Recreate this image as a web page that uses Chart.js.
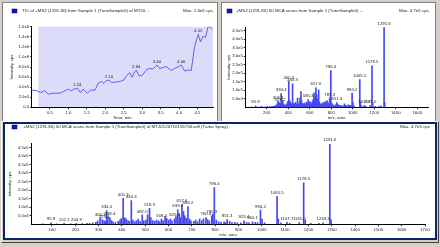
<!DOCTYPE html>
<html>
<head>
<meta charset="utf-8">
<script src="https://cdn.jsdelivr.net/npm/chart.js@4.4.1/dist/chart.umd.min.js"></script>
<style>
  body { margin: 0; width: 440px; height: 247px; background: #d4d0c8; position: relative; overflow: hidden; }
  .box { position: absolute; box-sizing: border-box; background: #fff; }
  canvas { position: absolute; }
</style>
</head>
<body>
<div class="box" style="left:2px;top:2px;width:216px;height:120px;border:1px solid #808080"></div>
<div class="box" style="left:221px;top:2px;width:215px;height:120px;border:1px solid #808080"></div>
<div class="box" style="left:1px;top:121px;width:438px;height:122px;background:#d4d0c8;border:1px solid;border-color:#fff #404040 #404040 #fff"></div>
<div class="box" style="left:3px;top:122px;width:434px;height:118px;border:2px solid #0a246a"></div>
<canvas id="tic" width="214" height="118" style="left:3px;top:3px"></canvas>
<canvas id="ms" width="212" height="118" style="left:222px;top:3px"></canvas>
<canvas id="msBig" width="430" height="114" style="left:5px;top:124px"></canvas>
<script>
// TIC trace (time in min, intensity in cps)
const ticTime = [0, 0.14, 0.25, 0.36, 0.45, 0.59, 0.77, 0.86, 1.0, 1.06,
  1.15, 1.24, 1.33, 1.40, 1.51, 1.60, 1.72, 1.81, 1.90, 1.96,
  2.03, 2.10, 2.17, 2.26, 2.39, 2.50, 2.57, 2.66, 2.73, 2.80,
  2.84, 2.92, 3.01, 3.10, 3.18, 3.29, 3.40, 3.47, 3.58, 3.65,
  3.79, 3.88, 4.01, 4.06, 4.15, 4.24, 4.33, 4.42, 4.52, 4.58,
  4.65, 4.72, 4.78, 4.83, 4.89];
const ticIntensity = [3.44e5, 3.3e5, 2.9e5, 3.3e5, 2.6e5, 2.8e5, 2.8e5, 3.1e5, 3.6e5, 3.3e5,
  3.6e5, 3.8e5, 2.9e5, 3.6e5, 2.8e5, 3.4e5, 3.4e5, 4.8e5, 5.1e5, 4.8e5,
  5.3e5, 5.4e5, 4.9e5, 5.0e5, 5.1e5, 5.4e5, 6.2e5, 6.9e5, 5.95e5, 7.1e5,
  7.4e5, 6.2e5, 6.4e5, 7.3e5, 7.7e5, 7.6e5, 8.4e5, 7.7e5, 7.9e5, 8.1e5,
  7.3e5, 7.7e5, 8.2e5, 8.4e5, 7.2e5, 7.4e5, 7.3e5, 1.2e6, 1.45e6, 1.3e6,
  1.41e6, 1.39e6, 1.59e6, 1.6e6, 1.55e6];
const ticPeakLabels = [1.24, 2.10, 2.84, 3.40, 4.06, 4.52];
const ticSelection = [0.18, 4.92];   // selected time range (min)
const ticMax = 1.6e6;
const ticXTicks = [0.5, 1.0, 1.5, 2.0, 2.5, 3.0, 3.5, 4.0, 4.5];
const ticYTicks = [0, 2e5, 4e5, 6e5, 8e5, 1e6, 1.2e6, 1.4e6, 1.6e6];

// MS2 spectrum (m/z, intensity in cps)
const peakMz = [
  60, 95.9, 120, 152.1, 180, 204.9, 230, 250, 262, 275,
  288, 296, 306.3, 316, 323.2, 328, 334.4, 340, 348.4, 355,
  362, 372, 384, 392, 398, 405.3, 412, 418, 426, 432,
  440.3, 447, 455, 462, 470, 478, 487.0, 494, 503, 510,
  518.3, 524, 532, 540, 548, 556, 562, 569.4, 577, 585.3,
  592, 600, 608, 615, 625.6, 632, 639.4, 646, 651, 657.6,
  664, 670, 676, 683.2, 690, 696, 708, 716, 724, 733,
  742, 750, 760.4, 768, 775, 785.3, 790, 796.4, 805, 815,
  825, 838, 845, 851.3, 862, 872, 884, 895, 910, 923.4,
  935, 945, 960.1, 972, 982, 994.2, 1001, 1012, 1065.5, 1071,
  1082, 1107.7, 1120, 1161.0, 1179.5, 1186, 1210, 1245, 1263.3, 1291.6,
  1297];
const peakIntensity = [
  3e3, 8e3, 3e3, 5e3, 3e3, 6e3, 4e3, 5e3, 6e3, 8e3,
  12e3, 20e3, 35e3, 28e3, 20e3, 18e3, 80e3, 45e3, 40e3, 22e3,
  15e3, 12e3, 18e3, 25e3, 35e3, 152e3, 40e3, 30e3, 22e3, 18e3,
  138e3, 25e3, 15e3, 22e3, 30e3, 18e3, 54e3, 20e3, 25e3, 55e3,
  93e3, 40e3, 22e3, 18e3, 25e3, 20e3, 15e3, 30e3, 22e3, 45e3,
  35e3, 25e3, 30e3, 20e3, 32e3, 45e3, 85e3, 60e3, 40e3, 115e3,
  75e3, 50e3, 35e3, 103e3, 30e3, 20e3, 18e3, 25e3, 15e3, 30e3,
  22e3, 32e3, 40e3, 28e3, 20e3, 50e3, 60e3, 215e3, 25e3, 15e3,
  12e3, 14e3, 10e3, 28e3, 18e3, 10e3, 12e3, 8e3, 8e3, 20e3,
  12e3, 8e3, 14e3, 12e3, 10e3, 83e3, 30e3, 8e3, 163e3, 30e3,
  8e3, 12e3, 6e3, 10e3, 243e3, 25e3, 5e3, 5e3, 9e3, 470e3,
  28e3];
const smallLabels = [95.9, 306.3, 323.2, 334.4, 405.3, 440.3, 585.3, 657.6, 785.3, 796.4,
  851.3, 994.2, 1065.5, 1107.7, 1161.0, 1179.5, 1291.6];
const bigLabels = [95.9, 152.1, 204.9, 306.3, 323.2, 334.4, 348.4, 405.3, 440.3, 487.0,
  518.3, 569.4, 625.6, 639.4, 657.6, 683.2, 760.4, 785.3, 796.4, 851.3,
  923.4, 960.1, 994.2, 1065.5, 1107.7, 1161.0, 1179.5, 1263.3, 1291.6];
const msMax = 4.7e5;
const msYTicks = [5e4, 1e5, 1.5e5, 2e5, 2.5e5, 3e5, 3.5e5, 4e5, 4.5e5];
const smallXTicks = [200, 400, 600, 800, 1000, 1200, 1400, 1600];
const bigXTicks = [100, 200, 300, 400, 500, 600, 700, 800, 900, 1000, 1100, 1200, 1300, 1400, 1500, 1600, 1700];

const FONT = '"Liberation Sans", Arial, sans-serif';
Chart.defaults.font.family = FONT;
Chart.defaults.font.size = 4.3;
Chart.defaults.color = '#222';

const expFmt = v => v.toExponential(1).replace('e+', 'e');
const setTicks = arr => s => { s.ticks = arr.map(v => ({value: v})); };

// window header: blue icon, title, "Max." text
const header = {
  id: 'header',
  afterDraw(chart, args, o) {
    const ctx = chart.ctx;
    ctx.save();
    ctx.fillStyle = '#1414c8';
    ctx.fillRect(o.iconX, o.y - 2, 5, 4);
    ctx.strokeStyle = '#000060';
    ctx.lineWidth = 0.5;
    ctx.strokeRect(o.iconX, o.y - 2, 5, 4);
    ctx.font = '4.4px ' + FONT;
    ctx.fillStyle = '#222';
    ctx.textBaseline = 'middle';
    ctx.textAlign = 'left';
    ctx.fillText(o.title, o.textX, o.y);
    ctx.textAlign = 'right';
    ctx.fillText(o.max, chart.width - o.rightPad, o.y);
    ctx.restore();
  }
};

// peak annotations above the matching data points
const peakLabels = {
  id: 'peakLabels',
  afterDatasetsDraw(chart, args, o) {
    const {ctx, scales: {x, y}} = chart;
    const pts = chart.data.datasets[0].data;
    ctx.save();
    ctx.font = '4.3px ' + FONT;
    ctx.fillStyle = '#222';
    ctx.textAlign = 'center';
    ctx.textBaseline = 'bottom';
    o.values.forEach(v => {
      const p = pts.find(d => Math.abs(d.x - v) < 1e-6);
      if (!p) return;
      ctx.fillText(v.toFixed(o.digits), x.getPixelForValue(p.x), y.getPixelForValue(p.y) - 1.5);
    });
    ctx.restore();
  }
};

const xGrid = { drawOnChartArea: false, tickLength: 2, color: '#000', lineWidth: 0.8 };
const yGrid = { drawOnChartArea: false, tickLength: 1.5, color: '#000', lineWidth: 0.8 };
const axisBorder = { color: '#000', width: 1 };

// TIC chart
new Chart(document.getElementById('tic'), {
  type: 'line',
  data: {
    datasets: [{
      data: ticTime.map((t, i) => ({x: t, y: ticIntensity[i]})),
      borderColor: '#6060ee',
      borderWidth: 1,
      pointRadius: 0,
      order: 1
    }, {
      data: ticSelection.map(t => ({x: t, y: ticMax})),
      fill: 'origin',
      backgroundColor: '#dcdcfa',
      borderColor: '#b4b4e6',
      borderWidth: 0.6,
      pointRadius: 0,
      order: 2
    }]
  },
  options: {
    responsive: false,
    animation: false,
    layout: { padding: { top: 23.7, right: 4, left: 0, bottom: 0 } },
    plugins: {
      legend: { display: false },
      tooltip: { enabled: false },
      header: { iconX: 9, textX: 19, y: 8, rightPad: 3,
        title: 'TIC of +MS2 (1291.80) from Sample 1 (TuneSample0) of MT20...', max: 'Max. 1.6e6 cps.' },
      peakLabels: { values: ticPeakLabels, digits: 2 }
    },
    scales: {
      x: {
        type: 'linear', min: 0, max: 4.92,
        ticks: { padding: 1, maxRotation: 0, autoSkip: false, callback: v => v.toFixed(1) },
        afterBuildTicks: setTicks(ticXTicks),
        grid: xGrid, border: axisBorder,
        title: { display: true, text: 'Time, min', padding: { top: 0, bottom: 0.8 } },
        afterFit: s => { s.height = 13.7; }
      },
      y: {
        min: 0, max: ticMax,
        ticks: { padding: 0.8, autoSkip: false, callback: v => v === 0 ? '0.0' : expFmt(v) },
        afterBuildTicks: setTicks(ticYTicks),
        grid: yGrid, border: axisBorder,
        title: { display: true, text: 'Intensity, cps', padding: { top: 6.3, bottom: 0 } },
        afterFit: s => { s.width = 28.5; }
      }
    }
  },
  plugins: [header, peakLabels]
});

// spectrum charts
function spectrum(id, o) {
  return new Chart(document.getElementById(id), {
    type: 'bar',
    data: {
      datasets: [{
        data: peakMz.map((m, i) => ({x: m, y: peakIntensity[i]})),
        backgroundColor: '#4848f0',
        barThickness: 1,
        grouped: false
      }]
    },
    options: {
      responsive: false,
      animation: false,
      layout: { padding: { top: o.top, right: o.right, left: 0, bottom: 0 } },
      plugins: {
        legend: { display: false },
        tooltip: { enabled: false },
        header: o.header,
        peakLabels: { values: o.labels, digits: 1 }
      },
      scales: {
        x: {
          type: 'linear', min: o.xMin, max: 1700, offset: false,
          ticks: { padding: 1, maxRotation: 0, autoSkip: false, callback: v => String(v) },
          afterBuildTicks: setTicks(o.xTicks),
          grid: Object.assign({ offset: false }, xGrid), border: axisBorder,
          title: { display: true, text: 'm/z, amu', padding: { top: 0, bottom: o.xTitlePad } },
          afterFit: s => { s.height = 13.7; }
        },
        y: {
          min: 0, max: msMax,
          ticks: { padding: 0.8, autoSkip: false, callback: v => expFmt(v) },
          afterBuildTicks: setTicks(msYTicks),
          grid: yGrid, border: axisBorder,
          title: { display: true, text: 'Intensity, cps', padding: { top: o.yTitlePad, bottom: 0 } },
          afterFit: s => { s.width = o.yWidth; }
        }
      }
    },
    plugins: [header, peakLabels]
  });
}

spectrum('ms', {
  top: 24.3, right: 6, xMin: 0, xTicks: smallXTicks, yWidth: 23.2, yTitlePad: 4.6, xTitlePad: 0.8,
  labels: smallLabels,
  header: { iconX: 5, textX: 14, y: 8, rightPad: 4,
    title: '+MS2 (1291.80) 50 MCA scans from Sample 1 (TuneSample0) ...', max: 'Max. 4.7e5 cps.' }
});

spectrum('msBig', {
  top: 19.9, right: 10, xMin: 10, xTicks: bigXTicks, yWidth: 26, yTitlePad: 2.3, xTitlePad: 0.3,
  labels: bigLabels,
  header: { iconX: 7, textX: 18, y: 3, rightPad: 5,
    title: '+MS2 (1291.80) 50 MCA scans from Sample 1 (TuneSample0) of MT20120710155730.wiff (Turbo Spray)', max: 'Max. 4.7e5 cps' }
});
</script>
</body>
</html>
